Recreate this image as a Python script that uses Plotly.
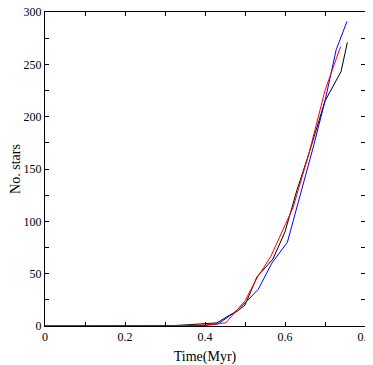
import plotly.graph_objects as go

# black run
t_black = [0, 0.1, 0.2, 0.3, 0.35, 0.40, 0.43, 0.46, 0.48, 0.50, 0.53, 0.57, 0.60, 0.63, 0.66, 0.70, 0.74, 0.756]
n_black = [0, 0, 0, 0, 1, 2, 3, 10, 14, 20, 47, 64, 90, 130, 165, 215, 243, 271]

# blue run
t_blue = [0, 0.1, 0.2, 0.3, 0.40, 0.433, 0.47, 0.50, 0.533, 0.567, 0.606, 0.633, 0.67, 0.70, 0.728, 0.755]
n_blue = [0, 0, 0, 0, 0.5, 2, 12, 22, 35, 60, 80, 118, 170, 215, 264, 291]

# red run
t_red = [0, 0.1, 0.2, 0.3, 0.40, 0.452, 0.50, 0.53, 0.564, 0.60, 0.62, 0.66, 0.70, 0.739]
n_red = [0, 0, 0, 0, 1, 3, 24, 46, 66, 96, 113, 165, 225, 267]

fig = go.Figure()
for t, n, c in [(t_black, n_black, 'black'), (t_blue, n_blue, 'blue'), (t_red, n_red, 'red')]:
    fig.add_trace(go.Scatter(x=t, y=n, mode='lines', line=dict(color=c, width=1), showlegend=False))

axis_style = dict(
    showgrid=False, zeroline=False, automargin=False, ticklabeloverflow='allow',
    showline=True, linecolor='black', linewidth=1, mirror='ticks',
    ticks='inside', ticklen=4, tickcolor='black',
)

# page has an 8px body margin, so the figure is a bit smaller than the window
fig.update_layout(
    width=365, height=357,
    margin=dict(l=37, r=8, t=4, b=39),
    paper_bgcolor='white', plot_bgcolor='white',
    font=dict(family='Liberation Serif', size=12, color='black'),
    xaxis=dict(range=[0, 0.8],
               tickvals=[0, 0.2, 0.4, 0.6, 0.8], ticktext=['0', '0.2', '0.4', '0.6', '0.8'],
               minor=dict(dtick=0.1, ticks='inside', ticklen=4, tickcolor='black'),
               title=dict(text='Time(Myr)', standoff=8), **axis_style),
    yaxis=dict(range=[0, 300], dtick=50,
               minor=dict(dtick=25, ticks='inside', ticklen=4, tickcolor='black'),
               title=dict(text='No. stars', standoff=10), **axis_style),
)

fig.write_html("out.html")
